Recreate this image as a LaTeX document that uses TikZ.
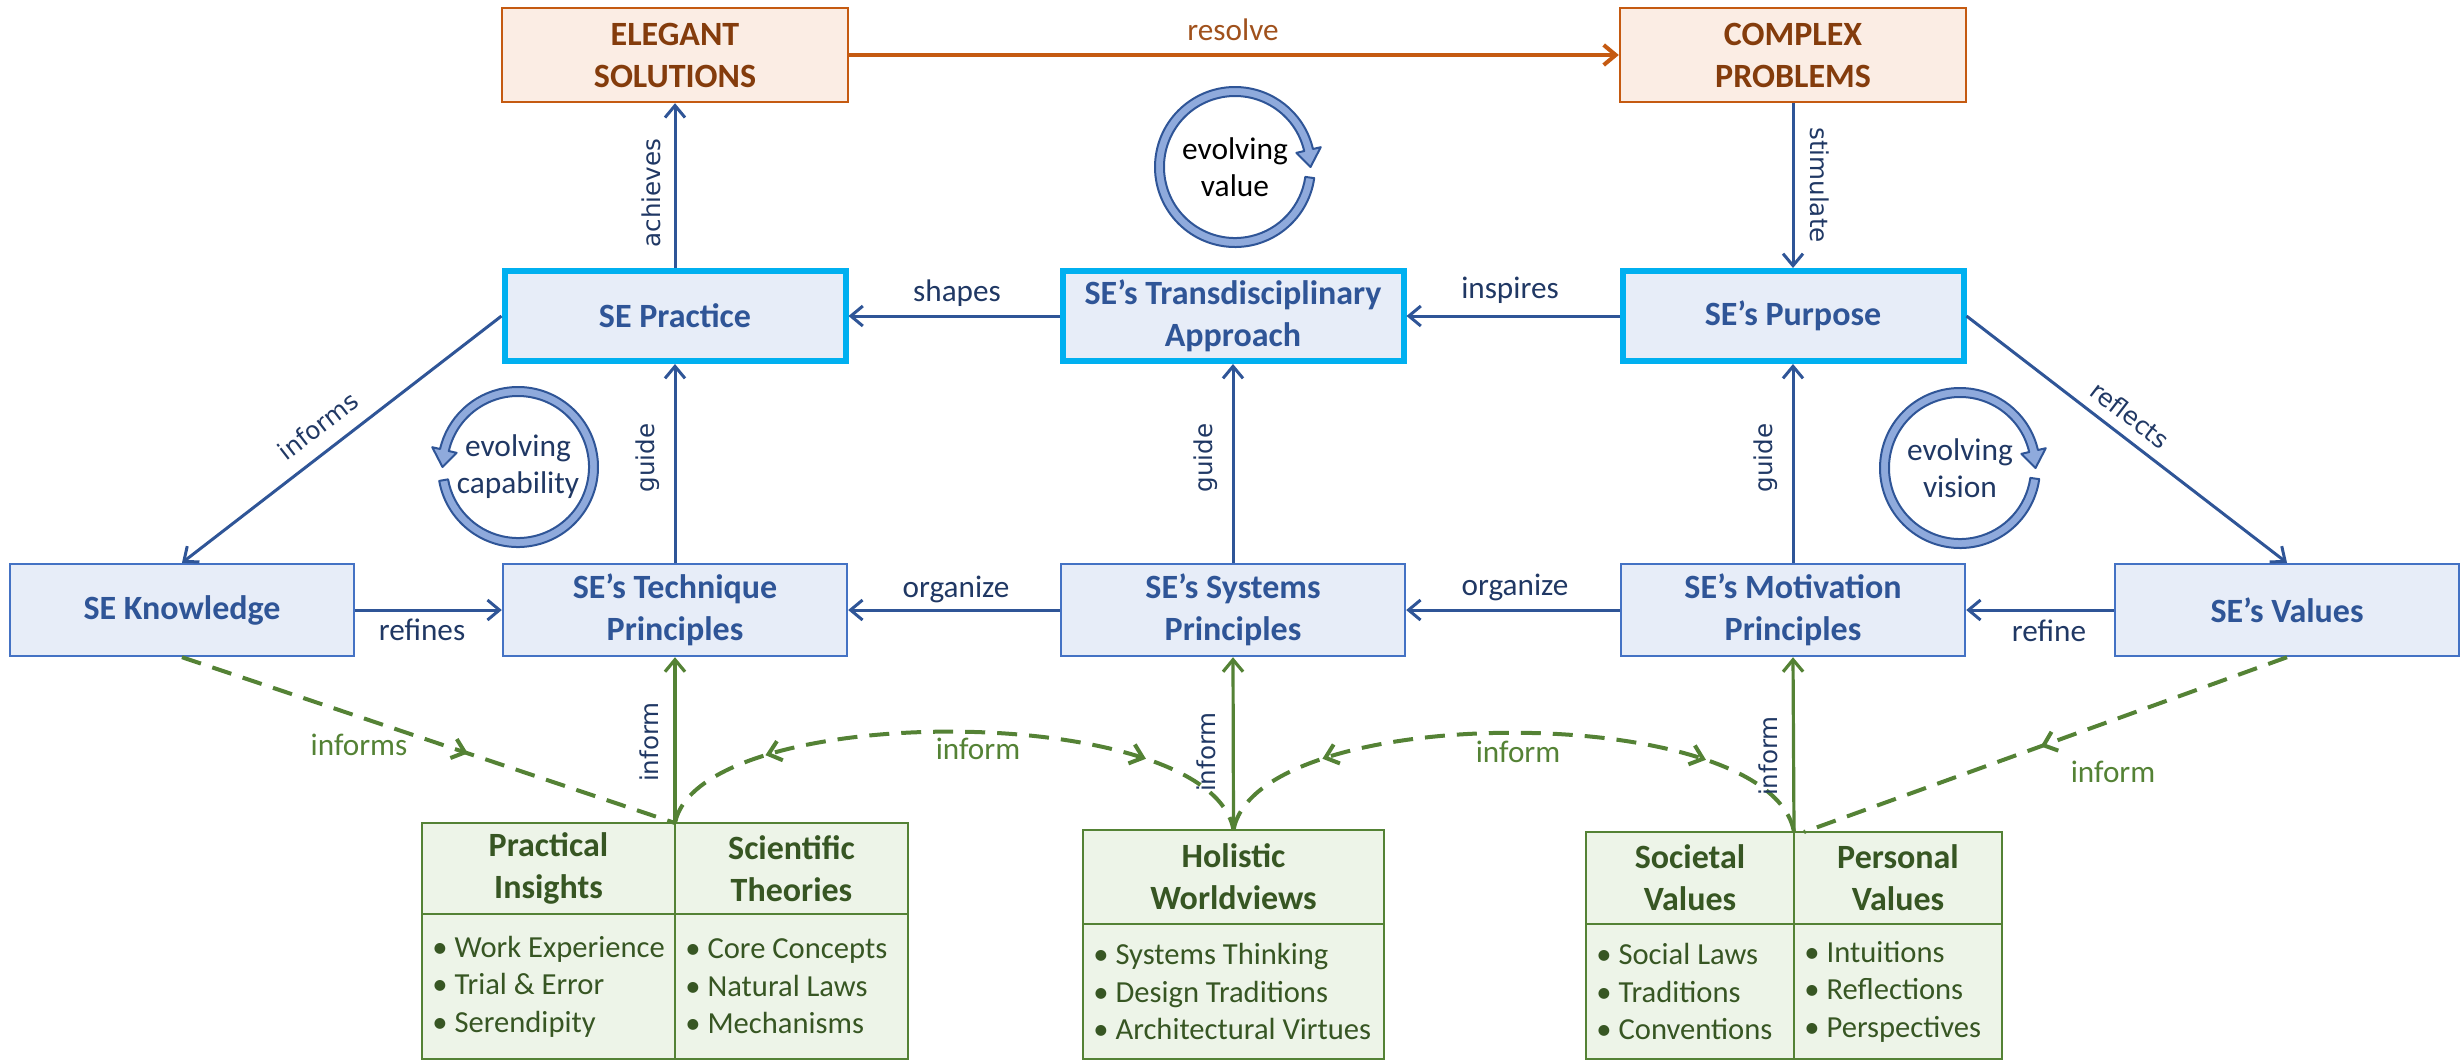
\documentclass[tikz,border=0pt]{standalone}
\usepackage{fontspec}
\setmainfont{Carlito}
\newfontfamily\labelfont{DejaVu Sans}
\usetikzlibrary{arrows.meta,decorations.markings}

\definecolor{orline}{HTML}{C55A11}
\definecolor{orfill}{HTML}{FBEDE4}
\definecolor{ortext}{HTML}{843C0C}
\definecolor{resbrown}{HTML}{A0511C}
\definecolor{bline}{HTML}{2F5597}
\definecolor{bfill}{HTML}{E7EDF8}
\definecolor{bcyan}{HTML}{00B0F0}
\definecolor{bborder}{HTML}{4472C4}
\definecolor{btext}{HTML}{2F5597}
\definecolor{navy}{HTML}{203864}
\definecolor{gline}{HTML}{548235}
\definecolor{gfill}{HTML}{EDF4E8}
\definecolor{gtext}{HTML}{375623}
\definecolor{ringfill}{HTML}{8FAADC}

\begin{document}
\begin{tikzpicture}[x=0.5pt, y=-0.5pt,
  boxfont/.style={font=\fontsize{17}{21}\selectfont\bfseries},
  goalbox/.style={boxfont, draw=orline, fill=orfill, line width=1.2pt, text=ortext,
    align=center, minimum width=173pt, minimum height=47pt, inner sep=0pt},
  corebox/.style={boxfont, draw=bcyan, fill=bfill, line width=3pt, text=btext,
    align=center, minimum width=170.5pt, minimum height=45pt, inner sep=0pt},
  princbox/.style={boxfont, draw=bborder, fill=bfill, line width=1.2pt, text=btext,
    align=center, minimum width=172pt, minimum height=46pt, inner sep=0pt},
  gcell/.style={boxfont, draw=gline, fill=gfill, line width=1.4pt, anchor=north west,
    inner sep=0pt, outer sep=0pt, text=gtext, align=center},
  glist/.style={anchor=west, align=left, inner sep=0pt, text=gtext,
    font=\fontsize{15.3}{18.8}\selectfont},
  tipb/.tip={Straight Barb[length=6pt,width=10pt]},
  flow/.style={draw=bline, line width=1.5pt, -tipb},
  orflow/.style={draw=orline, line width=2pt, -tipb},
  gflow/.style={draw=gline, line width=1.6pt, -tipb},
  gdash/.style={draw=gline, line width=2pt, dash pattern=on 10pt off 6pt},
  gmark/.style={postaction={decorate, solid, decoration={markings,
    mark=at position #1 with {\arrow{tipb}}}}},
  gmarks/.style 2 args={postaction={decorate, solid, decoration={markings,
    mark=at position #1 with {\arrowreversed{tipb}},
    mark=at position #2 with {\arrow{tipb}}}}},
  lab/.style={inner sep=0pt, text=navy, font=\fontsize{15.6}{18}\selectfont},
  glab/.style={inner sep=0pt, text=gline, font=\fontsize{15.6}{18}\selectfont},
  vlab/.style={inner sep=0pt, text=navy, font=\labelfont\fontsize{12.3}{14}\selectfont},
  ringpath/.style={fill=ringfill, draw=bline, line width=1pt, line join=round},
  ringtext/.style={inner sep=0pt, align=center, font=\fontsize{15.7}{18.5}\selectfont}
]
\useasboundingbox (0,0) rectangle (2463,1062);

% goals
\node[goalbox] (sol) at (675,55) {ELEGANT\\SOLUTIONS};
\node[goalbox] (prob) at (1793,55) {COMPLEX\\PROBLEMS};

% core row
\node[corebox] (prac) at (675,316) {SE Practice};
\node[corebox] (trans) at (1233,316) {SE’s Transdisciplinary\\Approach};
\node[corebox] (purp) at (1793,316) {SE’s Purpose};

% principles row
\node[princbox] (know) at (182,610) {SE Knowledge};
\node[princbox] (tech) at (675,610) {SE’s Technique\\Principles};
\node[princbox] (sys) at (1233,610) {SE’s Systems\\Principles};
\node[princbox] (mot) at (1793,610) {SE’s Motivation\\Principles};
\node[princbox] (vals) at (2287,610) {SE’s Values};

% sources: practical / scientific
\node[gcell, minimum width=126.5pt, minimum height=45.5pt] (pi) at (422,823) {Practical\\Insights};
\node[gcell, minimum width=116.5pt, minimum height=45.5pt] (st) at (675,823) {Scientific\\Theories};
\node[gcell, minimum width=126.5pt, minimum height=72.5pt] (pib) at (422,914) {};
\node[gcell, minimum width=116.5pt, minimum height=72.5pt] (stb) at (675,914) {};
\node[glist] (pil) at ([xshift=5pt]pib.west) {• Work Experience\\• Trial \& Error\\• Serendipity};
\node[glist] (stl) at ([xshift=5pt]stb.west) {• Core Concepts\\• Natural Laws\\• Mechanisms};

% sources: worldviews
\node[gcell, minimum width=150.5pt, minimum height=47pt] (hw) at (1083,830) {Holistic\\Worldviews};
\node[gcell, minimum width=150.5pt, minimum height=67.5pt] (hwb) at (1083,924) {};
\node[glist] (hwl) at ([xshift=5pt]hwb.west) {• Systems Thinking\\• Design Traditions\\• Architectural Virtues};

% sources: values
\node[gcell, minimum width=104pt, minimum height=46pt] (sv) at (1586,832) {Societal\\Values};
\node[gcell, minimum width=104pt, minimum height=46pt] (pv) at (1794,832) {Personal\\Values};
\node[gcell, minimum width=104pt, minimum height=67.5pt] (svb) at (1586,924) {};
\node[gcell, minimum width=104pt, minimum height=67.5pt] (pvb) at (1794,924) {};
\node[glist] (svl) at ([xshift=5pt]svb.west) {• Social Laws\\• Traditions\\• Conventions};
\node[glist] (pvl) at ([xshift=5pt]pvb.west) {• Intuitions\\• Reflections\\• Perspectives};

% blue and orange connectors
\draw[orflow] (sol.east) -- (prob.west);
\draw[flow] (prac.north) -- (sol.south);
\draw[flow] (prob.south) -- (purp.north);
\draw[flow] (trans.west) -- (prac.east);
\draw[flow] (purp.west) -- (trans.east);
\draw[flow] (prac.west) -- (know.north);
\draw[flow] (purp.east) -- (vals.north);
\draw[flow] (tech.north) -- (prac.south);
\draw[flow] (sys.north) -- (trans.south);
\draw[flow] (mot.north) -- (purp.south);
\draw[flow] (know.east) -- (tech.west);
\draw[flow] (sys.west) -- (tech.east);
\draw[flow] (mot.west) -- (sys.east);
\draw[flow] (vals.west) -- (mot.east);

% green connectors
\draw[gflow] (pi.north east) -- (tech.south);
\draw[gflow] (hw.north) -- (sys.south);
\draw[gflow] (sv.north east) -- (mot.south);
\draw[gdash, gmark=0.58] (know.south) -- (pi.north east);
\draw[gdash, gmark=0.51] (vals.south) -- ([xshift=5pt]sv.north east);
\draw[gdash, gmarks={0.19}{0.81}] (pi.north east) .. controls (700,700) and (1210,700) .. (hw.north);
\draw[gdash, gmarks={0.19}{0.81}] (hw.north) .. controls (1258,700) and (1770,700) .. (sv.north east);

% connector labels
\node[lab, text=resbrown] (lres) at (1233,30) {resolve};
\node[lab] (lsha) at (957,293) {shapes};
\node[lab] (lins) at (1510,290) {inspires};
\node[lab] (lref) at (422,630) {refines};
\node[lab] (lorg1) at (956,589) {organize};
\node[lab] (lorg2) at (1515,587) {organize};
\node[lab] (lrefn) at (2049,631) {refine};

\node[vlab, rotate=90] (lach) at (651,193) {achieves};
\node[vlab, rotate=-90] (lsti) at (1820,185) {stimulate};
\node[vlab, rotate=90] (lg1) at (648,458) {guide};
\node[vlab, rotate=90] (lg2) at (1206,458) {guide};
\node[vlab, rotate=90] (lg3) at (1766,458) {guide};
\node[vlab, rotate=90] (li1) at (649,742) {inform};
\node[vlab, rotate=90] (li2) at (1206,752) {inform};
\node[vlab, rotate=90] (li3) at (1768,756) {inform};
\node[vlab, rotate=37.7] (linf) at (318,426) {informs};
\node[vlab, rotate=-37.6] (lrefl) at (2130,415) {reflects};

\node[glab] (lgi) at (359,745) {informs};
\node[glab] (lgc1) at (978,749) {inform};
\node[glab] (lgc2) at (1518,752) {inform};
\node[glab] (lgv) at (2113,772) {inform};

% evolving cycles (local y axis points up)
\begin{scope}[shift={(518,467)}, yscale=-1]
  \filldraw[ringpath] (190:71) -- (190:80) arc[start angle=190, end angle=527, radius=80]
    -- (167:88) -- (180:75.5) -- (167:63) -- (167:71)
    arc[start angle=167, end angle=-170, radius=71] -- cycle;
\end{scope}
\node[ringtext, text=navy] (capt) at (518,467) {evolving\\capability};

\begin{scope}[shift={(1235,167)}, yscale=-1]
  \filldraw[ringpath] (-8:71) -- (-8:80) arc[start angle=-8, end angle=-347, radius=80]
    -- (13:88) -- (0:75.5) -- (13:63) -- (13:71)
    arc[start angle=13, end angle=352, radius=71] -- cycle;
\end{scope}
\node[ringtext, text=black] (valt) at (1235,167) {evolving\\value};

\begin{scope}[shift={(1960,468)}, yscale=-1]
  \filldraw[ringpath] (-8:71) -- (-8:80) arc[start angle=-8, end angle=-347, radius=80]
    -- (13:88) -- (0:75.5) -- (13:63) -- (13:71)
    arc[start angle=13, end angle=352, radius=71] -- cycle;
\end{scope}
\node[ringtext, text=navy] (vist) at (1960,468) {evolving\\vision};

\end{tikzpicture}
\end{document}
